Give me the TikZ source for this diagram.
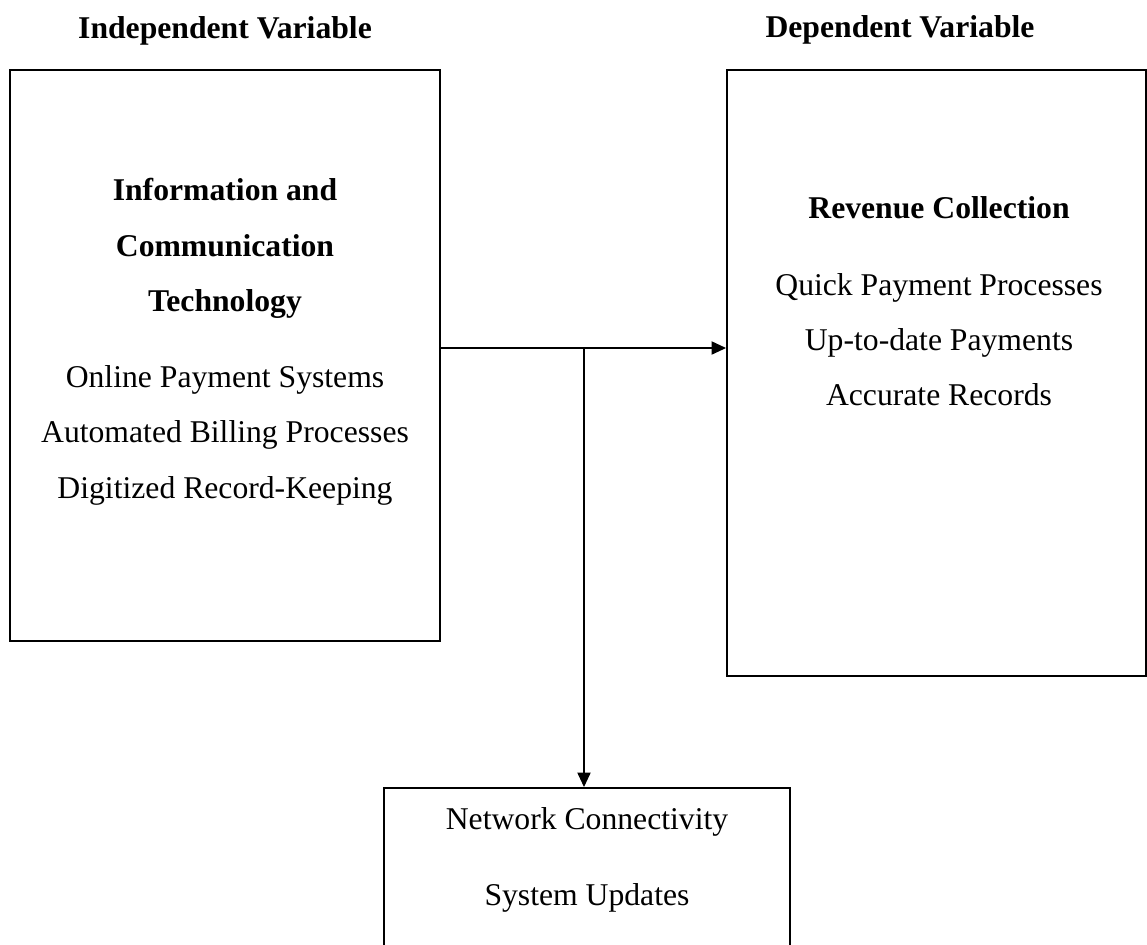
\documentclass[tikz,border=0pt]{standalone}
\usepackage{fontspec}
\setmainfont{Liberation Serif}
\usetikzlibrary{arrows.meta}
\newcommand{\pxu}{0.01221cm}
\tikzset{
  varbox/.style={draw=black, line width=0.7pt, inner sep=0pt},
  txt/.style={anchor=base, inner sep=0pt, font=\fontsize{11}{13}\selectfont},
  btxt/.style={txt, font=\fontsize{11}{13}\selectfont\bfseries},
  link/.style={black, line width=0.4pt, -{Triangle[length=5pt,width=4.6pt]}}
}

\begin{document}
\begin{tikzpicture}[x=\pxu, y=-\pxu]
\useasboundingbox (0,0) rectangle (1147,944);
% titles
\node[btxt] (ivtitle) at (225,38) {Independent Variable};
\node[btxt] (dvtitle) at (900,37) {Dependent Variable};
% boxes
\node[varbox, minimum width=430*\pxu, minimum height=571*\pxu] (ivbox) at (225,355.5) {};
\node[varbox, minimum width=419*\pxu, minimum height=606*\pxu] (dvbox) at (936.5,373) {};
\node[varbox, minimum width=406*\pxu, minimum height=212*\pxu] (mvbox) at (587,894) {};
% independent variable
\node[btxt] (ivh1) at (225,200) {Information and};
\node[btxt] (ivh2) at (225,256) {Communication};
\node[btxt] (ivh3) at (225,311) {Technology};
\node[txt] (iva) at (225,387) {Online Payment Systems};
\node[txt] (ivb) at (225,442) {Automated Billing Processes};
\node[txt] (ivc) at (225,498) {Digitized Record-Keeping};
% dependent variable
\node[btxt] (dvh) at (939,218) {Revenue Collection};
\node[txt] (dva) at (939,295) {Quick Payment Processes};
\node[txt] (dvb) at (939,350) {Up-to-date Payments};
\node[txt] (dvc) at (939,405) {Accurate Records};
% bottom box
\node[txt] (mva) at (587,829) {Network Connectivity};
\node[txt] (mvb) at (587,905) {System Updates};
% connectors
\coordinate (split) at (584,348);
\draw[link] (split -| ivbox.east) -- (split -| dvbox.west);
\draw[link] (split) -- (split |- mvbox.north);
\end{tikzpicture}
\end{document}
